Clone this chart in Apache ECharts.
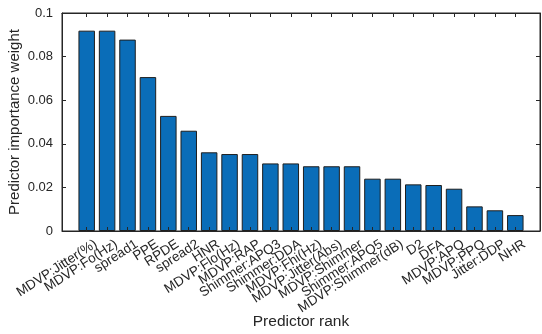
<!DOCTYPE html>
<html>
<head>
<meta charset="utf-8">
<script src="https://cdn.jsdelivr.net/npm/echarts@6/dist/echarts.min.js"></script>
<style>
  html, body { margin: 0; padding: 0; background: #ffffff; }
  #chart { width: 542px; height: 334px; }
</style>
</head>
<body>
<div id="chart"></div>
<script>
// Predictors in rank order and their importance weights
const categories = [
  'MDVP:Jitter(%)', 'MDVP:Fo(Hz)', 'spread1', 'PPE', 'RPDE', 'spread2', 'HNR',
  'MDVP:Flo(Hz)', 'MDVP:RAP', 'Shimmer:APQ3', 'Shimmer:DDA', 'MDVP:Fhi(Hz)',
  'MDVP:Jitter(Abs)', 'MDVP:Shimmer', 'Shimmer:APQ5', 'MDVP:Shimmer(dB)', 'D2',
  'DFA', 'MDVP:APQ', 'MDVP:PPQ', 'Jitter:DDP', 'NHR'
];
const weights = [
  0.0919, 0.0919, 0.0878, 0.0706, 0.0528, 0.0460, 0.0361,
  0.0353, 0.0353, 0.0310, 0.0310, 0.0297,
  0.0297, 0.0297, 0.0240, 0.0240, 0.0214,
  0.0211, 0.0194, 0.0113, 0.0095, 0.0073
];
const yTicks = [0, 0.02, 0.04, 0.06, 0.08, 0.1];

const ranks = categories.map((c, i) => i + 1);
const X_MIN = -0.21, X_MAX = 23.21;
// rotated tick labels end a little to the right of their tick
const LABEL_SHIFT = 0.45;
// blank end labels keep every predictor name clear of the min/max label pruning
const labelValues = [X_MIN].concat(ranks.map(r => r + LABEL_SHIFT), [X_MAX]);
const INK = '#262626';
const FONT = 'Liberation Sans, Arial, Helvetica, sans-serif';

const chart = echarts.init(document.getElementById('chart'));

const xBase = {
  type: 'value', min: X_MIN, max: X_MAX,
  splitLine: { show: false },
  axisLine: { show: true, onZero: false, lineStyle: { color: INK, width: 1 } },
  axisTick: { show: true, inside: true, length: 4, customValues: ranks, lineStyle: { color: INK } }
};
const yBase = {
  type: 'value', min: 0, max: 0.1, interval: 0.02,
  splitLine: { show: false },
  axisLine: { show: true, onZero: false, lineStyle: { color: INK, width: 1 } },
  axisTick: { show: true, inside: true, length: 4, lineStyle: { color: INK } }
};

function rankLabel(v) {
  const k = Math.round(v - LABEL_SHIFT);
  if (Math.abs(v - LABEL_SHIFT - k) > 0.01) return '';
  return categories[k - 1] || '';
}

chart.setOption({
  animation: false,
  backgroundColor: '#ffffff',
  grid: {
    left: 62, right: 2, top: 13, bottom: 103, containLabel: false,
    outerBoundsMode: 'none',
    show: true, borderColor: INK, borderWidth: 1, backgroundColor: 'transparent'
  },
  xAxis: [
    Object.assign({}, xBase, {
      position: 'bottom', z: 10,
      name: 'Predictor rank', nameLocation: 'middle', nameGap: 83,
      nameMoveOverlap: false,
      nameTextStyle: { color: INK, fontSize: 15.5, fontFamily: FONT },
      axisLabel: {
        show: true, rotate: 33, margin: 12, hideOverlap: false,
        customValues: labelValues,
        color: INK, fontSize: 13.5, fontFamily: FONT,
        formatter: rankLabel
      }
    }),
    Object.assign({}, xBase, {
      position: 'top', z: 10,
      axisLabel: { show: false }
    })
  ],
  yAxis: [
    Object.assign({}, yBase, {
      position: 'left', z: 10,
      name: 'Predictor importance weight', nameLocation: 'middle', nameGap: 40,
      nameMoveOverlap: false,
      nameTextStyle: { color: INK, fontSize: 15, fontFamily: FONT },
      axisLabel: {
        show: true, margin: 9, color: INK, fontSize: 13, fontFamily: FONT,
        customValues: yTicks,
        formatter: v => String(+v.toFixed(2))
      }
    }),
    Object.assign({}, yBase, {
      position: 'right', z: 10,
      axisLabel: { show: false }
    })
  ],
  series: [{
    type: 'bar',
    xAxisIndex: 0, yAxisIndex: 0,
    barWidth: 16.5,
    data: ranks.map((r, i) => [r, weights[i]]),
    itemStyle: { color: '#0A6DB8', borderColor: '#1f1f1f', borderWidth: 1 }
  }]
});
</script>
</body>
</html>
